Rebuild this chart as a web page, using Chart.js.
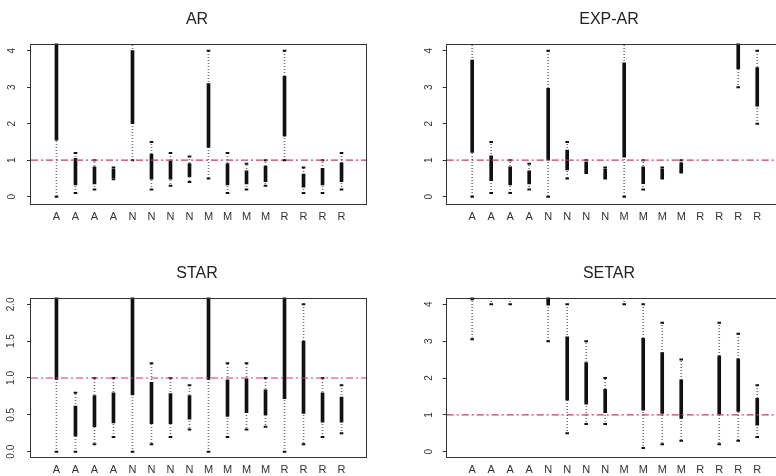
<!DOCTYPE html>
<html>
<head>
<meta charset="utf-8">
<script src="https://cdn.jsdelivr.net/npm/chart.js@4.4.0/dist/chart.umd.min.js"></script>
<style>
  html, body { margin: 0; padding: 0; background: #fff; overflow: hidden; }
  body { width: 776px; height: 476px; position: relative; }
  canvas { position: absolute; }
</style>
</head>
<body>
<canvas id="arChart"></canvas>
<canvas id="expChart"></canvas>
<canvas id="starChart"></canvas>
<canvas id="setarChart"></canvas>
<script>
const categories = ['A', 'A', 'A', 'A', 'N', 'N', 'N', 'N', 'M', 'M', 'M', 'M', 'R', 'R', 'R', 'R']
const refLine = 1

// y tick labels
const ratioTicks = ['0', '1', '2', '3', '4']
const starTicks = ['0.0', '0.5', '1.0', '1.5', '2.0']

// AR
const arLow = [0, 0.1, 0.2, 0.48, 1.0, 0.2, 0.3, 0.4, 0.5, 0.1, 0.2, 0.3, 1.0, 0.1, 0.1, 0.2]
const arQ1 = [1.55, 0.32, 0.35, 0.52, 2.0, 0.48, 0.48, 0.55, 1.35, 0.32, 0.35, 0.41, 1.66, 0.26, 0.32, 0.41]
const arQ3 = [5.0, 1.05, 0.82, 0.75, 4.0, 1.17, 0.98, 0.91, 3.1, 0.91, 0.71, 0.84, 3.3, 0.62, 0.78, 0.93]
const arHigh = [6.0, 1.2, 1.0, 0.8, 4.6, 1.5, 1.2, 1.1, 4.0, 1.2, 0.9, 1.0, 4.0, 0.8, 1.0, 1.2]

// EXP-AR
const expLow = [0, 0.1, 0.1, 0.2, 0, 0.5, 0.65, 0.5, 0, 0.2, 0.5, 0.66, 4.6, 4.6, 3.0, 2.0]
const expQ1 = [1.21, 0.44, 0.32, 0.35, 1.0, 0.73, 0.68, 0.52, 1.08, 0.36, 0.52, 0.68, 5.0, 5.0, 3.5, 2.48]
const expQ3 = [3.74, 1.12, 0.82, 0.71, 2.97, 1.28, 0.95, 0.75, 3.67, 0.82, 0.75, 0.93, 6.0, 6.0, 4.8, 3.54]
const expHigh = [4.6, 1.5, 1.0, 0.9, 4.0, 1.5, 1.0, 0.8, 4.6, 1.0, 0.8, 1.0, 7.0, 7.0, 5.5, 4.0]

// STAR
const starLow = [0, 0, 0.1, 0.2, 0, 0.1, 0.2, 0.3, 0, 0.2, 0.3, 0.34, 0, 0.1, 0.2, 0.25]
const starQ1 = [0.98, 0.21, 0.34, 0.39, 0.77, 0.38, 0.38, 0.44, 0.98, 0.48, 0.53, 0.5, 0.72, 0.52, 0.4, 0.4]
const starQ3 = [2.5, 0.62, 0.76, 0.8, 2.5, 0.94, 0.79, 0.76, 2.5, 0.97, 0.99, 0.84, 2.5, 1.5, 0.8, 0.74]
const starHigh = [3.0, 0.8, 1.0, 1.0, 3.0, 1.2, 1.0, 0.9, 3.0, 1.2, 1.2, 1.0, 3.0, 2.0, 1.0, 0.9]

// SETAR
const setarLow = [3.05, 4.0, 4.0, 4.5, 3.0, 0.5, 0.75, 0.75, 4.0, 0.1, 0.2, 0.3, 4.5, 0.2, 0.3, 0.4]
const setarQ1 = [4.12, 4.3, 4.3, 5.0, 3.98, 1.4, 1.29, 1.06, 4.3, 1.13, 1.04, 0.9, 5.0, 1.02, 1.09, 0.72]
const setarQ3 = [5.0, 5.0, 5.0, 6.0, 5.0, 3.12, 2.42, 1.69, 5.0, 3.08, 2.69, 1.95, 6.0, 2.6, 2.52, 1.45]
const setarHigh = [6.0, 6.0, 6.0, 7.0, 6.0, 4.0, 3.0, 2.0, 6.0, 4.0, 3.5, 2.5, 7.0, 3.5, 3.2, 1.8]

const FONT = "'Liberation Sans', Arial, sans-serif"

// dotted fill for the whiskers
function dotPattern() {
  let c = document.createElement('canvas')
  c.width = 1
  c.height = 3
  let cx = c.getContext('2d')
  cx.fillStyle = '#777'
  cx.fillRect(0, 0, 1, 1)
  return cx.createPattern(c, 'repeat')
}
const dots = dotPattern()

const frameAndRef = {
  id: 'frameAndRef',
  afterDatasetsDraw(chart) {
    let ctx = chart.ctx
    let a = chart.chartArea
    let yy = chart.scales.y.getPixelForValue(refLine)
    ctx.save()
    ctx.strokeStyle = '#d9336b'
    ctx.lineWidth = 1.2
    ctx.setLineDash([7, 3, 2, 3])
    ctx.beginPath()
    ctx.moveTo(a.left, yy)
    ctx.lineTo(a.right, yy)
    ctx.stroke()
    ctx.setLineDash([])
    ctx.strokeStyle = '#333'
    ctx.lineWidth = 1
    ctx.strokeRect(Math.round(a.left) - 0.5, Math.round(a.top) + 0.5,
      Math.round(a.right - a.left), Math.round(a.bottom - a.top))
    ctx.restore()
  }
}

function makePanel(p) {
  let canvas = document.getElementById(p.id)
  canvas.width = p.w
  canvas.height = p.h
  canvas.style.left = p.left + 'px'
  canvas.style.top = p.top + 'px'
  let pts = arr => arr.map((v, i) => ({x: i + 1, y: v}))
  let yTickValues = p.yLabels.map(Number)

  return new Chart(canvas, {
    type: 'bar',
    data: {
      datasets: [
        {type: 'line', data: pts(p.low), showLine: false, pointStyle: 'line', pointRadius: 1.8,
          pointBorderWidth: 2, borderColor: '#111', order: 1, clip: 0},
        {type: 'line', data: pts(p.high), showLine: false, pointStyle: 'line', pointRadius: 1.8,
          pointBorderWidth: 2, borderColor: '#111', order: 1, clip: 0},
        {type: 'bar', data: p.q1.map((v, i) => ({x: i + 1, y: [v, p.q3[i]]})),
          backgroundColor: '#111', barThickness: 3, grouped: false, order: 2, clip: 0},
        {type: 'bar', data: p.low.map((v, i) => ({x: i + 1, y: [v, p.high[i]]})),
          backgroundColor: dots, barThickness: 1, grouped: false, order: 3, clip: 0}
      ]
    },
    options: {
      responsive: false,
      animation: false,
      devicePixelRatio: 1,
      events: [],
      layout: {padding: {left: p.padL, right: 0, top: 0, bottom: 0}},
      plugins: {
        legend: {display: false},
        tooltip: {enabled: false},
        title: {
          display: true,
          text: p.title,
          color: '#222',
          font: {family: FONT, size: 16, weight: 'normal'},
          padding: {top: p.tTop, bottom: p.tBottom}
        }
      },
      scales: {
        x: {
          type: 'linear',
          min: -0.34,
          max: 17.34,
          offset: false,
          grid: {display: false, drawTicks: false, offset: false},
          border: {display: false},
          afterBuildTicks: s => { s.ticks = categories.map((c, i) => ({value: i + 1})) },
          afterFit: s => { s.height = p.xH },
          ticks: {
            autoSkip: false,
            maxRotation: 0,
            padding: 7,
            color: '#333',
            font: {family: FONT, size: 11},
            callback: (v) => categories[v - 1]
          }
        },
        y: {
          min: p.yMin,
          max: p.yMax,
          grid: {drawOnChartArea: false, drawTicks: true, tickLength: 4, color: '#333'},
          border: {display: false},
          afterBuildTicks: s => { s.ticks = yTickValues.map(v => ({value: v})) },
          afterFit: s => { s.width = p.yW },
          ticks: {
            autoSkip: false,
            minRotation: 90,
            maxRotation: 90,
            crossAlign: 'center',
            padding: p.yPad,
            color: '#333',
            font: {family: FONT, size: 10},
            callback: (v, i) => p.yLabels[i]
          }
        },
        // empty right-hand box, only used to place the title over the panel
        spacer: {
          type: 'linear',
          position: 'right',
          display: true,
          grid: {display: false},
          border: {display: false},
          ticks: {display: false},
          afterFit: s => { s.width = p.rightW }
        }
      }
    },
    plugins: [frameAndRef]
  })
}

makePanel({id: 'arChart', title: 'AR', left: 0, top: 0, w: 394, h: 238, padL: 0, yW: 31, rightW: 27, xH: 35,
  tTop: 10.4, tBottom: 13.9, yMin: -0.173, yMax: 4.197, yPad: 11.5, yLabels: ratioTicks,
  low: arLow, q1: arQ1, q3: arQ3, high: arHigh})

makePanel({id: 'expChart', title: 'EXP-AR', left: 394, top: 0, w: 404, h: 238, padL: 26, yW: 26.7, rightW: 15.3, xH: 35,
  tTop: 10.4, tBottom: 13.9, yMin: -0.173, yMax: 4.197, yPad: 10.6, yLabels: ratioTicks,
  low: expLow, q1: expQ1, q3: expQ3, high: expHigh})

makePanel({id: 'starChart', title: 'STAR', left: 0, top: 238, w: 394, h: 238, padL: 0, yW: 31, rightW: 27, xH: 19.3,
  tTop: 26.1, tBottom: 14.2, yMin: -0.068, yMax: 2.092, yPad: 8.35, yLabels: starTicks,
  low: starLow, q1: starQ1, q3: starQ3, high: starHigh})

makePanel({id: 'setarChart', title: 'SETAR', left: 394, top: 238, w: 404, h: 238, padL: 26, yW: 26.7, rightW: 15.3, xH: 19.3,
  tTop: 26.1, tBottom: 14.2, yMin: -0.136, yMax: 4.185, yPad: 10.6, yLabels: ratioTicks,
  low: setarLow, q1: setarQ1, q3: setarQ3, high: setarHigh})
</script>
</body>
</html>
